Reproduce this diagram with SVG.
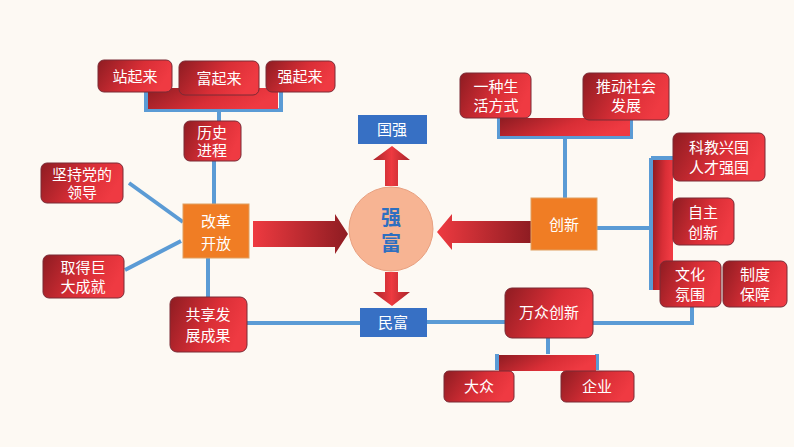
<svg xmlns="http://www.w3.org/2000/svg" width="794" height="447" viewBox="0 0 794 447">
<defs>
<linearGradient id="rg" x1="0" y1="0" x2="1" y2="0.3"><stop offset="0" stop-color="#8e1c22"/><stop offset="0.6" stop-color="#d92e36"/><stop offset="1" stop-color="#ef3a42"/></linearGradient>
<linearGradient id="ar" x1="0" y1="0" x2="1" y2="0"><stop offset="0" stop-color="#ee3a40"/><stop offset="1" stop-color="#8e1c22"/></linearGradient>
<linearGradient id="al" x1="0" y1="0" x2="1" y2="0"><stop offset="0" stop-color="#ee3a40"/><stop offset="1" stop-color="#8e1c22"/></linearGradient>
<linearGradient id="av" x1="0" y1="0" x2="1" y2="0"><stop offset="0" stop-color="#a9242a"/><stop offset="0.5" stop-color="#ee3a40"/><stop offset="1" stop-color="#a9242a"/></linearGradient>
</defs>
<style>
.r{fill:url(#rg);stroke:#7a2a35;stroke-width:1}
.o{fill:#f07d24;stroke:#e0a060;stroke-width:1}
.b{fill:#3770c4}
.t{fill:#fff;font-family:"Noto Sans CJK SC",sans-serif;font-size:15px;text-anchor:middle}
.ln{stroke:#5b9bd5;stroke-width:4;fill:none}
</style>
<rect width="794" height="447" fill="#fdf9f3"/>
<g id="connectors">
<path class="ln" d="M146 88V110H281V88M219 110V121M214 161V204M129 183L183 222M181 241L125 270M208 258V298M247 323H360M427 322H505M577 323H692V307M565 137V198M597 228H651M651 158V290M548 338V354M497 354V370M597 354V370M499 118V137H631V118"/>
<path class="ln" d="M651 158H673"/>
<rect x="148" y="88" width="130" height="21" fill="url(#rg)"/>
<rect x="500" y="118" width="130" height="18" fill="url(#rg)"/>
<rect x="653" y="160" width="20" height="130" fill="url(#rg)"/>
<rect x="499" y="355" width="97" height="16" fill="url(#rg)"/>
<path d="M253 221H335V214L348 234L335 254V247H253Z" fill="url(#ar)"/>
<path d="M531 221H452V214L437 232L452 250V243H531Z" fill="url(#al)"/>
<path d="M385 186V160H373L392 146L410 160H398V186Z" fill="url(#av)"/>
<path d="M385 272V292H373L392 306L410 292H398V272Z" fill="url(#av)"/>
</g>
<g id="n1"><rect class="r" x="98" y="60" width="74" height="32" rx="6"/><text class="t" x="135" y="82">站起来</text></g>
<g id="n2"><rect class="r" x="179" y="61" width="80" height="34" rx="6"/><text class="t" x="219" y="84">富起来</text></g>
<g id="n3"><rect class="r" x="266" y="61" width="69" height="31" rx="6"/><text class="t" x="300" y="82">强起来</text></g>
<g id="n4"><rect class="r" x="184" y="121" width="57" height="40" rx="6"/><text class="t" x="212" y="138">历史</text><text class="t" x="212" y="156">进程</text></g>
<g id="n5"><rect class="r" x="41" y="163" width="82" height="40" rx="6"/><text class="t" x="82" y="180">坚持党的</text><text class="t" x="82" y="198">领导</text></g>
<g id="n6"><rect class="o" x="183" y="204" width="66" height="54"/><text class="t" x="216" y="227" font-size="17">改革</text><text class="t" x="216" y="249" font-size="17">开放</text></g>
<g id="n7"><rect class="r" x="43" y="255" width="81" height="43" rx="6"/><text class="t" x="83" y="273">取得巨</text><text class="t" x="83" y="292">大成就</text></g>
<g id="n8"><rect class="r" x="170" y="297" width="77" height="55" rx="7"/><text class="t" x="208" y="320">共享发</text><text class="t" x="208" y="341">展成果</text></g>
<g id="n9"><circle cx="391" cy="229" r="42" fill="#f7b493" stroke="#e8a080"/><text x="391" y="225" fill="#2e6fc0" font-family="Noto Sans CJK SC,sans-serif" font-size="20" font-weight="bold" text-anchor="middle">强</text><text x="391" y="251" fill="#2e6fc0" font-family="Noto Sans CJK SC,sans-serif" font-size="20" font-weight="bold" text-anchor="middle">富</text></g>
<g id="n10"><rect class="b" x="358" y="115" width="69" height="29"/><text class="t" x="392" y="135" font-size="16">国强</text></g>
<g id="n11"><rect class="b" x="360" y="308" width="67" height="29"/><text class="t" x="393" y="328" font-size="16">民富</text></g>
<g id="n12"><rect class="r" x="460" y="73" width="71" height="45" rx="6"/><text class="t" x="496" y="92">一种生</text><text class="t" x="496" y="111">活方式</text></g>
<g id="n13"><rect class="r" x="583" y="73" width="86" height="47" rx="6"/><text class="t" x="626" y="92">推动社会</text><text class="t" x="626" y="111">发展</text></g>
<g id="n14"><rect class="o" x="531" y="198" width="66" height="52"/><text class="t" x="564" y="230" font-size="17">创新</text></g>
<g id="n15"><rect class="r" x="673" y="133" width="92" height="48" rx="6"/><text class="t" x="719" y="153">科教兴国</text><text class="t" x="719" y="173">人才强国</text></g>
<g id="n16"><rect class="r" x="673" y="198" width="61" height="47" rx="6"/><text class="t" x="703" y="218">自主</text><text class="t" x="703" y="238">创新</text></g>
<g id="n17"><rect class="r" x="660" y="261" width="61" height="46" rx="6"/><text class="t" x="690" y="280">文化</text><text class="t" x="690" y="300">氛围</text></g>
<g id="n18"><rect class="r" x="723" y="261" width="64" height="46" rx="6"/><text class="t" x="755" y="280">制度</text><text class="t" x="755" y="300">保障</text></g>
<g id="n19"><rect class="r" x="505" y="288" width="88" height="50" rx="7"/><text class="t" x="549" y="318">万众创新</text></g>
<g id="n20"><rect class="r" x="444" y="371" width="70" height="31" rx="5"/><text class="t" x="479" y="392">大众</text></g>
<g id="n21"><rect class="r" x="561" y="371" width="73" height="31" rx="5"/><text class="t" x="597" y="392">企业</text></g>
</svg>
